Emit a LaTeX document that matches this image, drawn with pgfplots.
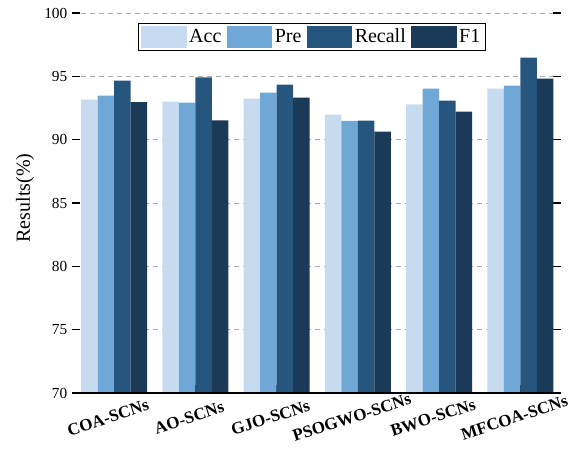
\documentclass[border=0pt]{standalone}
\usepackage{fontspec}
\setmainfont{Liberation Serif}
\usepackage{pgfplots}
\usepackage{pgfplotstable}
\pgfplotsset{compat=1.18}

\definecolor{cAcc}{HTML}{C6DBEF}
\definecolor{cPre}{HTML}{6FA8D6}
\definecolor{cRecall}{HTML}{26567D}
\definecolor{cFone}{HTML}{1B3A57}

% Results (%) of each model
\pgfplotstableread{
idx Acc Pre Recall F1
0 93.16 93.48 94.66 92.97
1 93.00 92.92 94.92 91.53
2 93.24 93.71 94.34 93.32
3 91.97 91.48 91.50 90.63
4 92.79 94.03 93.08 92.21
5 94.03 94.26 96.47 94.82
}\results

\begin{document}
\begin{tikzpicture}
\path[use as bounding box] (-54pt,-46.5pt) rectangle (377.25pt,294.75pt);
\begin{axis}[
  at={(0pt,0pt)}, anchor=south west,
  scale only axis, width=366.75pt, height=285pt,
  ybar=0pt, bar width=0.203,
  xmin=-0.517, xmax=5.5, ymin=70, ymax=100,
  xtick={0,1,2,3,4,5},
  xticklabels={COA-SCNs,AO-SCNs,GJO-SCNs,PSOGWO-SCNs,BWO-SCNs,MFCOA-SCNs},
  xtick pos=bottom,
  ytick={70,75,...,100}, ytick pos=both,
  tick align=inside, major tick length=6pt,
  major tick style={black, line width=0.9pt},
  axis line style={draw=none},
  ymajorgrids,
  grid style={gray!65, line width=0.75pt, dash pattern=on 3.75pt off 3pt},
  /pgf/number format/assume math mode=true,
  yticklabel style={font=\fontsize{11.5}{13}\selectfont},
  xticklabel style={font=\fontsize{12.8}{14}\selectfont\bfseries,
    anchor=center, xshift=-4.5pt, yshift=-18.5pt, rotate=18},
  ylabel={Results(\%)},
  ylabel style={font=\fontsize{15}{18}\selectfont, at={(axis description cs:-0.0961,0.513)}, anchor=center, rotate=0},
  legend columns=4,
  legend image code/.code={\fill[#1] (0pt,-8.25pt) rectangle (34pt,8.25pt);},
  legend style={at={(0.491,0.974)}, anchor=north, draw=black, line width=0.75pt,
    font=\fontsize{15}{18}\selectfont, inner xsep=2pt, inner ysep=2pt,
    nodes={inner xsep=2pt, inner ysep=1pt},
    /tikz/every even column/.append style={column sep=2pt}},
  after end axis/.code={\draw[black, line width=1.3pt] (rel axis cs:0,0) -- (rel axis cs:1,0);},
]
\addplot[fill=cAcc, draw=none] table[x=idx, y=Acc] {\results};
\addplot[fill=cPre, draw=none] table[x=idx, y=Pre] {\results};
\addplot[fill=cRecall, draw=none] table[x=idx, y=Recall] {\results};
\addplot[fill=cFone, draw=none] table[x=idx, y=F1] {\results};
\legend{Acc,Pre,Recall,F1}
\end{axis}
\end{tikzpicture}
\end{document}
